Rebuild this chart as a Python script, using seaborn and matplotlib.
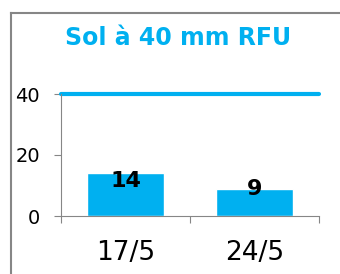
import matplotlib
matplotlib.use("Agg")
import matplotlib.pyplot as plt
import seaborn as sns
import pandas as pd

# data
dates = ["17/5", "24/5"]
values = [14, 9]
rfu = 40
title = "Sol à 40 mm RFU"

blue = "#00B0F0"
grey = "#868686"

df = pd.DataFrame({"date": dates, "value": values})

sns.set_style("white")
plt.rcParams["font.family"] = ["DejaVu Sans"]
plt.rcParams["text.color"] = "black"
plt.rcParams["xtick.color"] = "black"
plt.rcParams["ytick.color"] = "black"

fig = plt.figure(figsize=(3.4, 2.74), dpi=100)

# chart frame: only the top and left edges are visible in the crop
frame = fig.add_axes([10.5 / 340, -0.1, 1, 1.1 - 12.5 / 274])
frame.set_xticks([])
frame.set_yticks([])
frame.patch.set_alpha(0)
for s in ["right", "bottom"]:
    frame.spines[s].set_visible(False)
for s in ["left", "top"]:
    frame.spines[s].set_color(grey)
    frame.spines[s].set_linewidth(1.5)

ax = fig.add_axes([61 / 340, 1 - 216 / 274, 258 / 340, 122 / 274])
ax.patch.set_alpha(0)

sns.barplot(data=df, x="date", y="value", color=blue, saturation=1,
            width=0.59, ax=ax)
ax.axhline(rfu, color=blue, lw=3, clip_on=False)

# value labels
offsets = [-8, 0]
for i, v in enumerate(values):
    ax.annotate(str(v), (i, v), xytext=(0, offsets[i]), textcoords="offset pixels",
                ha="center", va="center", fontsize=16, fontweight="bold",
                color="black")

ax.set_ylim(0, 40)
ax.set_xlim(-0.5, 1.5)
ax.set_yticks([0, 20, 40])
ax.tick_params(axis="y", labelsize=14, length=5, color=grey, left=True,
               pad=10, labelcolor="black")

ax.set_xticks([-0.5, 0.5, 1.5])
ax.set_xticklabels([])
ax.set_xticks([0, 1], minor=True)
ax.set_xticklabels(dates, minor=True)
ax.tick_params(axis="x", which="major", length=5, color=grey, bottom=True)
ax.tick_params(axis="x", which="minor", length=0, labelsize=19, pad=17,
               labelcolor="black")
ax.set_xlabel("")
ax.set_ylabel("")

for s in ["top", "right"]:
    ax.spines[s].set_visible(False)
for s in ["left", "bottom"]:
    ax.spines[s].set_color(grey)
ax.spines["left"].set_bounds(0, 40)

fig.text(178 / 340, 1 - 38 / 274, title, color=blue, fontsize=17,
         fontweight="bold", ha="center", va="center")

fig.savefig("out.png", dpi=100)
